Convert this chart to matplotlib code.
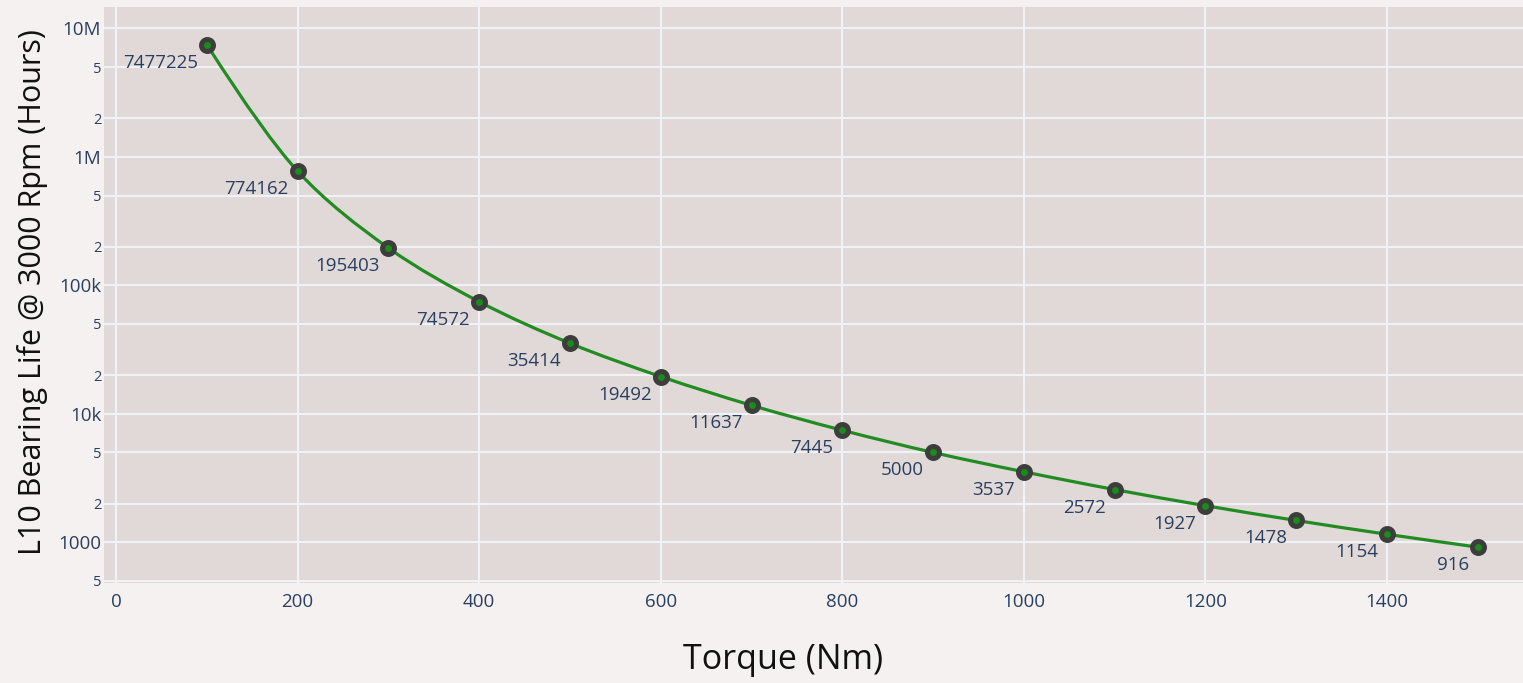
import numpy as np
import matplotlib.pyplot as plt
from matplotlib.path import Path
from matplotlib.patches import PathPatch

plt.rcParams['font.family'] = ['Open Sans', 'DejaVu Sans']

# data
torque = [100, 200, 300, 400, 500, 600, 700, 800, 900, 1000, 1100, 1200, 1300, 1400, 1500]
life = [7477225, 774162, 195403, 74572, 35414, 19492, 11637, 7445, 5000, 3537,
        2572, 1927, 1478, 1154, 916]

xticks = [0, 200, 400, 600, 800, 1000, 1200, 1400]
yticks = [500, 1000, 2000, 5000, 10000, 20000, 50000, 100000, 200000, 500000,
          1000000, 2000000, 5000000, 10000000]
ytick_labels = ['5', '1000', '2', '5', '10k', '2', '5', '100k', '2', '5', '1M', '2', '5', '10M']

paper = '#f4f1f0'
plot_bg = '#e0d9d8'
grid_c = '#f0f2f8'
text_c = '#2a3f5f'
line_c = '#228b22'

W, H = 1523, 683
fig = plt.figure(figsize=(W / 100, H / 100), dpi=100)
fig.patch.set_facecolor(paper)
ax = fig.add_axes([104 / W, (H - 583) / H, (W - 104) / W, (583 - 7) / H])
ax.set_facecolor(plot_bg)
ax.set_yscale('log')
ax.set_xlim(-13.2, 1549.7)
ax.set_ylim(482, 14.66e6)

ax.set_xticks(xticks)
ax.set_xticklabels([str(v) for v in xticks])
ax.set_yticks(yticks)
ax.set_yticklabels(ytick_labels)
ax.yaxis.set_minor_locator(plt.NullLocator())
for lab in ax.get_yticklabels():
    lab.set_fontsize(13.5 if len(lab.get_text()) > 1 else 10.5)
for lab in ax.get_xticklabels():
    lab.set_fontsize(13.5)
ax.tick_params(axis='both', length=0, colors=text_c)
ax.tick_params(axis='y', pad=2)
ax.tick_params(axis='x', pad=7)
ax.grid(True, color=grid_c, linewidth=1.5)
ax.set_axisbelow(True)
for s in ax.spines.values():
    s.set_visible(False)

# smooth line drawn as bezier path, same style as plotly's spline
pts = ax.transData.transform(np.column_stack([torque, life]))
tang = []
for i in range(1, len(pts) - 1):
    d1 = pts[i - 1] - pts[i]
    d2 = pts[i + 1] - pts[i]
    d1a = np.hypot(*d1) ** 0.5
    d2a = np.hypot(*d2) ** 0.5
    num = d2a * d2a * d1 - d1a * d1a * d2
    den1 = 3 * d2a * (d1a + d2a)
    den2 = 3 * d1a * (d1a + d2a)
    tang.append((pts[i] + num / den1, pts[i] - num / den2))

verts = [pts[0], tang[0][0], pts[1]]
codes = [Path.MOVETO, Path.CURVE3, Path.CURVE3]
for i in range(2, len(pts) - 1):
    verts += [tang[i - 2][1], tang[i - 1][0], pts[i]]
    codes += [Path.CURVE4] * 3
verts += [tang[-1][1], pts[-1]]
codes += [Path.CURVE3] * 2
verts = ax.transData.inverted().transform(np.array(verts))
ax.add_patch(PathPatch(Path(verts, codes), fill=False, edgecolor=line_c,
                       linewidth=2.3, transform=ax.transData, zorder=3))

ax.plot(torque, life, 'o', ms=8.6, mfc='#1a8c1a', mec='#3d3d3d', mew=3.6, zorder=4)

for x, y in zip(torque, life):
    ax.annotate(str(y), (x, y), xytext=(-9, -9), textcoords='offset pixels',
                ha='right', va='top', fontsize=13.5, color=text_c, zorder=5)

fig.text(783 / W, 1 - 660 / H, 'Torque (Nm)', ha='center', va='center',
         fontsize=24.5, color='#111111')
fig.text(33 / W, 1 - 292 / H, 'L10 Bearing Life @ 3000 Rpm (Hours)', ha='center',
         va='center', rotation=90, fontsize=22, color='#111111')

fig.savefig('out.png', dpi=100, facecolor=paper)
